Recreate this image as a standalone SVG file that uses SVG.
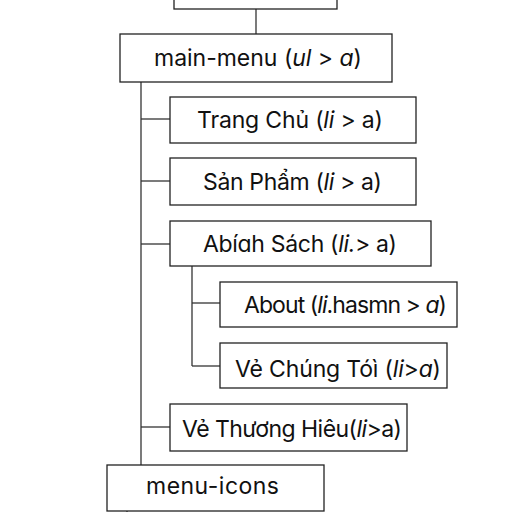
<svg xmlns="http://www.w3.org/2000/svg" width="512" height="512" viewBox="0 0 512 512">
<style>
.box{fill:#fff;stroke:#222;stroke-width:1.3}
.t{font-family:Inter,"Noto Sans","Liberation Sans",sans-serif;font-size:23px;fill:#111}
.c{stroke:#333;stroke-width:1.3;fill:none}
.i{font-style:italic}
</style>
<rect width="512" height="512" fill="#fff"/>
<g id="connectors">
<line class="c" x1="256" y1="9" x2="256" y2="34"/>
<line class="c" x1="141" y1="82" x2="141" y2="465"/>
<line class="c" x1="141" y1="119" x2="170" y2="119"/>
<line class="c" x1="141" y1="181" x2="170" y2="181"/>
<line class="c" x1="141" y1="244" x2="170" y2="244"/>
<line class="c" x1="192" y1="266" x2="192" y2="366"/>
<line class="c" x1="192" y1="303" x2="220" y2="303"/>
<line class="c" x1="192" y1="366" x2="220" y2="366"/>
<line class="c" x1="141" y1="427" x2="170" y2="427"/>
<line class="c" x1="127" y1="511" x2="127" y2="514"/>
</g>
<g id="top"><rect class="box" x="174" y="-10" width="163" height="19"/></g>
<g id="main-menu"><rect class="box" x="120" y="34" width="272" height="48"/>
<text class="t" x="154" y="66" textLength="208" lengthAdjust="spacing">main-menu (<tspan class="i">ul</tspan> &gt; <tspan class="i">a</tspan>)</text></g>
<g id="trang-chu"><rect class="box" x="170" y="97" width="246" height="46"/>
<text class="t" x="197" y="128" textLength="186" lengthAdjust="spacing">Trang Chủ (<tspan class="i">li</tspan> &gt; a)</text></g>
<g id="san-pham"><rect class="box" x="170" y="158" width="246" height="47"/>
<text class="t" x="203" y="190" textLength="179" lengthAdjust="spacing">Sản Phẩm (<tspan class="i">li</tspan> &gt; a)</text></g>
<g id="abiah-sach"><rect class="box" x="170" y="221" width="261" height="45"/>
<text class="t" x="203" y="252" textLength="194" lengthAdjust="spacing">Abíɑh Sách (<tspan class="i">li.</tspan>&gt; a)</text></g>
<g id="about"><rect class="box" x="220" y="282" width="237" height="45"/>
<text class="t" x="244" y="313" textLength="203" lengthAdjust="spacing">About (<tspan class="i">li</tspan>.hasmn &gt; <tspan class="i">a</tspan>)</text></g>
<g id="ve-chung-toi"><rect class="box" x="220" y="343" width="227" height="45"/>
<text class="t" x="235" y="377" textLength="206" lengthAdjust="spacing">Vẻ Chúng Tóì (<tspan class="i">li</tspan>&gt;<tspan class="i">a</tspan>)</text></g>
<g id="ve-thuong-hieu"><rect class="box" x="170" y="404" width="237" height="47"/>
<text class="t" x="182" y="437" textLength="220" lengthAdjust="spacing">Vẻ Thương Hiêu(<tspan class="i">li</tspan>&gt;a)</text></g>
<g id="menu-icons"><rect class="box" x="107" y="465" width="217" height="46"/>
<text class="t" x="146" y="494" textLength="133" lengthAdjust="spacing">menu-icons</text></g>
</svg>
